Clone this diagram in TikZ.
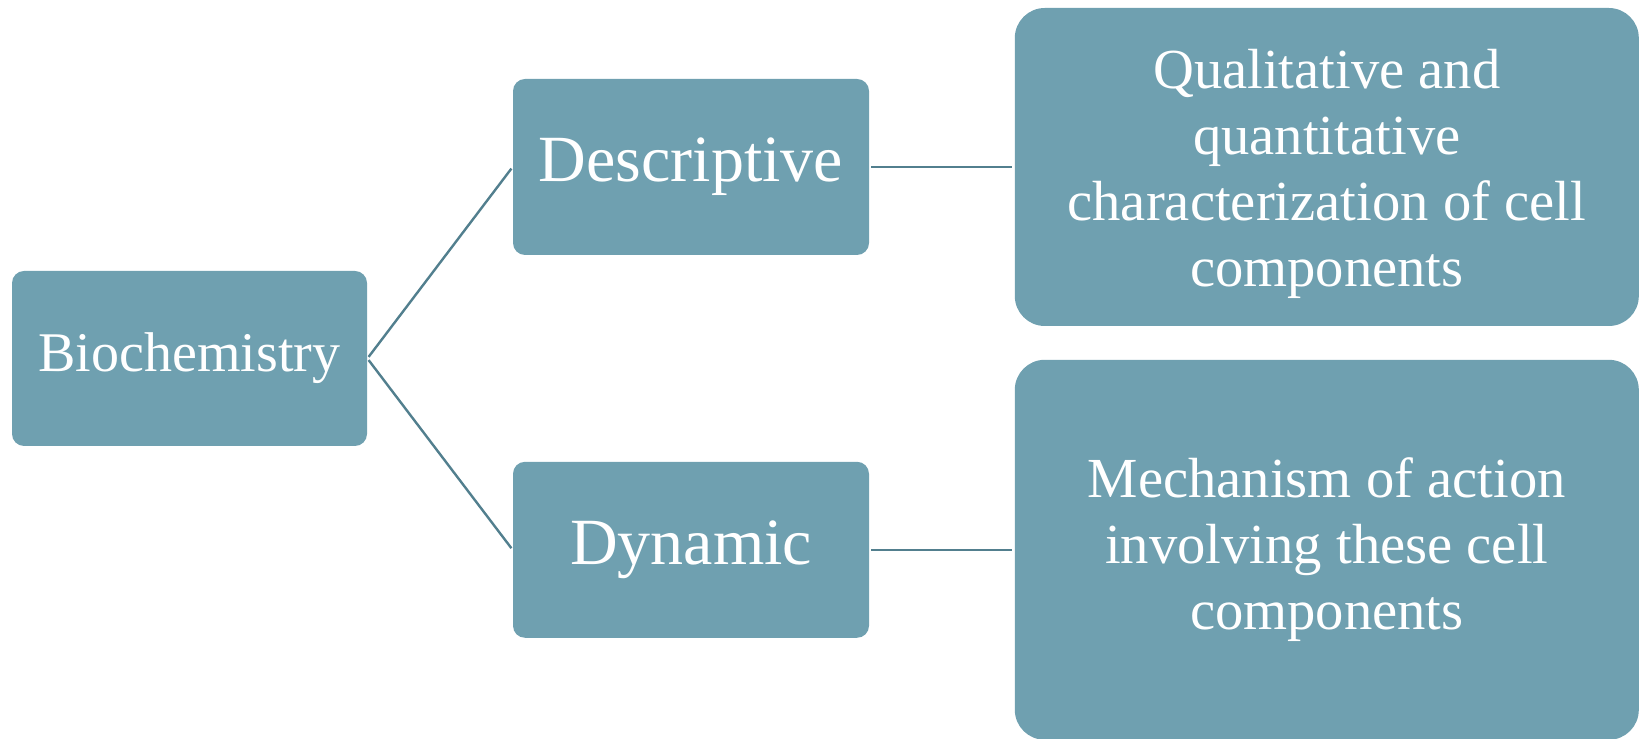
\documentclass[tikz,border=0pt]{standalone}
\usepackage{fontspec}
\setmainfont{Liberation Serif}
\usepackage{tikz}
\usetikzlibrary{positioning}
\definecolor{boxteal}{RGB}{111,160,176}
\definecolor{lineteal}{RGB}{82,127,142}

\begin{document}
\begin{tikzpicture}[
    box/.style={fill=boxteal, text=white, rounded corners=6pt, inner sep=0pt,
                align=center, minimum width=178pt, minimum height=88pt},
    bigbox/.style={box, rounded corners=15pt, minimum width=312pt,
                   font=\fontsize{28.3}{33}\selectfont},
    link/.style={draw=lineteal, line width=1.2pt, shorten >=1pt, shorten <=1pt}
]
    \useasboundingbox (0,0) rectangle (819.5pt,369.5pt);

    % boxes
    \node[box, minimum width=177.5pt, minimum height=87.5pt,
          font=\fontsize{28}{33}\selectfont] (bio) at (94.75pt,190.25pt) {Biochemistry};
    \node[box, font=\fontsize{33}{38}\selectfont] (desc) at (345.5pt,286pt) {Descriptive};
    \node[box, font=\fontsize{33}{38}\selectfont, below=103pt of desc] (dyn) {Dynamic};
    \node[bigbox, minimum height=159pt, right=72.5pt of desc] (qual)
        {\rule{0pt}{27pt}Qualitative and\\quantitative\\characterization of cell\\components};
    \node[bigbox, minimum height=190pt, right=72.5pt of dyn] (mech)
        {Mechanism of action\\involving these cell\\components};

    % connectors
    \draw[link] (bio.east) -- (desc.west);
    \draw[link] (bio.east) -- (dyn.west);
    \draw[link] (desc.east) -- (qual.west);
    \draw[link] (dyn.east) -- (mech.west);
\end{tikzpicture}
\end{document}
